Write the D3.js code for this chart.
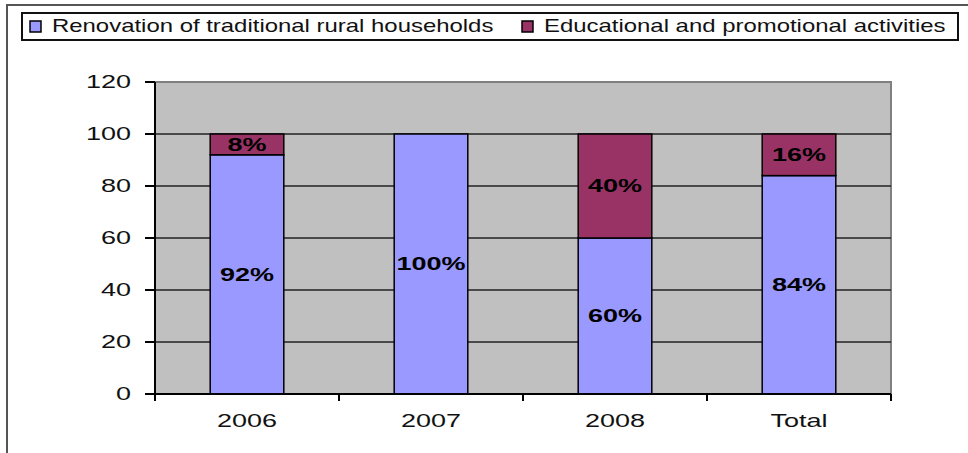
<!DOCTYPE html>
<html>
<head>
<meta charset="utf-8">
<script src="https://cdn.jsdelivr.net/npm/d3@7"></script>
<style>
    body { margin: 0; background: #fff; }
    svg { display: block; font-family: "Liberation Sans", Arial, sans-serif; }
</style>
</head>
<body>
<div id="chart"></div>
<script>
const categories = ["2006", "2007", "2008", "Total"];
const renovation = [92, 100, 60, 84];
const educational = [8, 0, 40, 16];
const seriesNames = ["Renovation of traditional rural households", "Educational and promotional activities"];
const seriesColors = ["#9999FF", "#993366"];
const yTicks = [0, 20, 40, 60, 80, 100, 120];

const width = 968, height = 453;
const plot = { left: 155, right: 891, top: 82, bottom: 394 };
const numStretch = 1.5;   // the original text is drawn horizontally stretched
const legendStretch = 1.33;

const svg = d3.select("#chart").append("svg")
    .attr("width", width)
    .attr("height", height);

// outer frame (only top + left visible)
svg.append("path")
    .attr("d", `M7,${height} L7,5 L${width},5`)
    .attr("fill", "none")
    .attr("stroke", "#555")
    .attr("stroke-width", 2);

const x = d3.scaleBand()
    .domain(categories)
    .range([plot.left, plot.right])
    .paddingInner(0.6)
    .paddingOuter(0.3);

const xEdge = d3.scaleLinear()
    .domain([0, categories.length])
    .range([plot.left, plot.right]);

const y = d3.scaleLinear()
    .domain([0, 120])
    .range([plot.bottom, plot.top]);

// plot background
svg.append("rect")
    .attr("x", plot.left)
    .attr("y", plot.top)
    .attr("width", plot.right - plot.left)
    .attr("height", plot.bottom - plot.top)
    .attr("fill", "#C0C0C0")
    .attr("stroke", "#808080")
    .attr("stroke-width", 2);

// gridlines
svg.append("g")
    .selectAll("line")
    .data(yTicks.filter(d => d > 0 && d < 120))
    .enter()
    .append("line")
    .attr("x1", plot.left)
    .attr("x2", plot.right)
    .attr("y1", d => y(d))
    .attr("y2", d => y(d))
    .attr("stroke", "#222")
    .attr("stroke-width", 1.5);

// stacked bars
const rows = categories.map((c, i) => ({ cat: c, ren: renovation[i], edu: educational[i] }));
const stack = d3.stack().keys(["ren", "edu"])(rows);

const layers = svg.append("g")
    .selectAll("g")
    .data(stack)
    .enter()
    .append("g")
    .attr("fill", (d, i) => seriesColors[i]);

layers.selectAll("rect")
    .data(d => d.filter(s => s[1] - s[0] > 0))
    .enter()
    .append("rect")
    .attr("x", d => x(d.data.cat))
    .attr("width", x.bandwidth())
    .attr("y", d => y(d[1]))
    .attr("height", d => y(d[0]) - y(d[1]))
    .attr("stroke", "#000")
    .attr("stroke-width", 1.5);

// data labels
layers.selectAll("text")
    .data(d => d.filter(s => s[1] - s[0] > 0))
    .enter()
    .append("text")
    .attr("transform", d => `translate(${x(d.data.cat) + x.bandwidth() / 2},${y((d[0] + d[1]) / 2)}) scale(${numStretch},1)`)
    .attr("dy", "0.36em")
    .attr("text-anchor", "middle")
    .attr("fill", "#000")
    .attr("font-weight", "bold")
    .attr("font-size", 18)
    .text(d => Math.round(d[1] - d[0]) + "%");

// y axis
const yAxis = svg.append("g")
    .attr("transform", `translate(${plot.left},0)`);
yAxis.append("line")
    .attr("y1", plot.top).attr("y2", plot.bottom)
    .attr("stroke", "#000").attr("stroke-width", 2);
yAxis.selectAll(".tick")
    .data(yTicks)
    .enter()
    .append("line")
    .attr("x1", -10).attr("x2", 0)
    .attr("y1", d => y(d)).attr("y2", d => y(d))
    .attr("stroke", "#000").attr("stroke-width", 2);
yAxis.selectAll("text")
    .data(yTicks)
    .enter()
    .append("text")
    .attr("transform", d => `translate(-24,${y(d)}) scale(${numStretch},1)`)
    .attr("dy", "0.36em")
    .attr("text-anchor", "end")
    .attr("font-size", 18)
    .attr("fill", "#111")
    .text(d => d);

// x axis
const xAxis = svg.append("g");
xAxis.append("line")
    .attr("x1", plot.left).attr("x2", plot.right)
    .attr("y1", plot.bottom).attr("y2", plot.bottom)
    .attr("stroke", "#000").attr("stroke-width", 2);
xAxis.selectAll(".tick")
    .data(d3.range(categories.length + 1))
    .enter()
    .append("line")
    .attr("x1", d => xEdge(d)).attr("x2", d => xEdge(d))
    .attr("y1", plot.bottom).attr("y2", plot.bottom + 7)
    .attr("stroke", "#000").attr("stroke-width", 2);
xAxis.selectAll("text")
    .data(categories)
    .enter()
    .append("text")
    .attr("transform", d => `translate(${x(d) + x.bandwidth() / 2},421) scale(${numStretch},1)`)
    .attr("dy", "0.36em")
    .attr("text-anchor", "middle")
    .attr("font-size", 18)
    .attr("fill", "#111")
    .text(d => d);

// legend
const legend = svg.append("g");
legend.append("rect")
    .attr("x", 22).attr("y", 13)
    .attr("width", 936).attr("height", 27)
    .attr("fill", "#fff")
    .attr("stroke", "#111")
    .attr("stroke-width", 2);

const legendX = [30, 522];
const items = legend.selectAll(".item")
    .data(seriesNames)
    .enter()
    .append("g")
    .attr("transform", (d, i) => `translate(${legendX[i]},0)`);
items.append("rect")
    .attr("x", 0).attr("y", 21)
    .attr("width", 11).attr("height", 11)
    .attr("fill", (d, i) => seriesColors[i])
    .attr("stroke", "#000")
    .attr("stroke-width", 1.5);
items.append("text")
    .attr("transform", `translate(22,26) scale(${legendStretch},1)`)
    .attr("dy", "0.36em")
    .attr("font-size", 18)
    .attr("fill", "#111")
    .text(d => d);
</script>
</body>
</html>
